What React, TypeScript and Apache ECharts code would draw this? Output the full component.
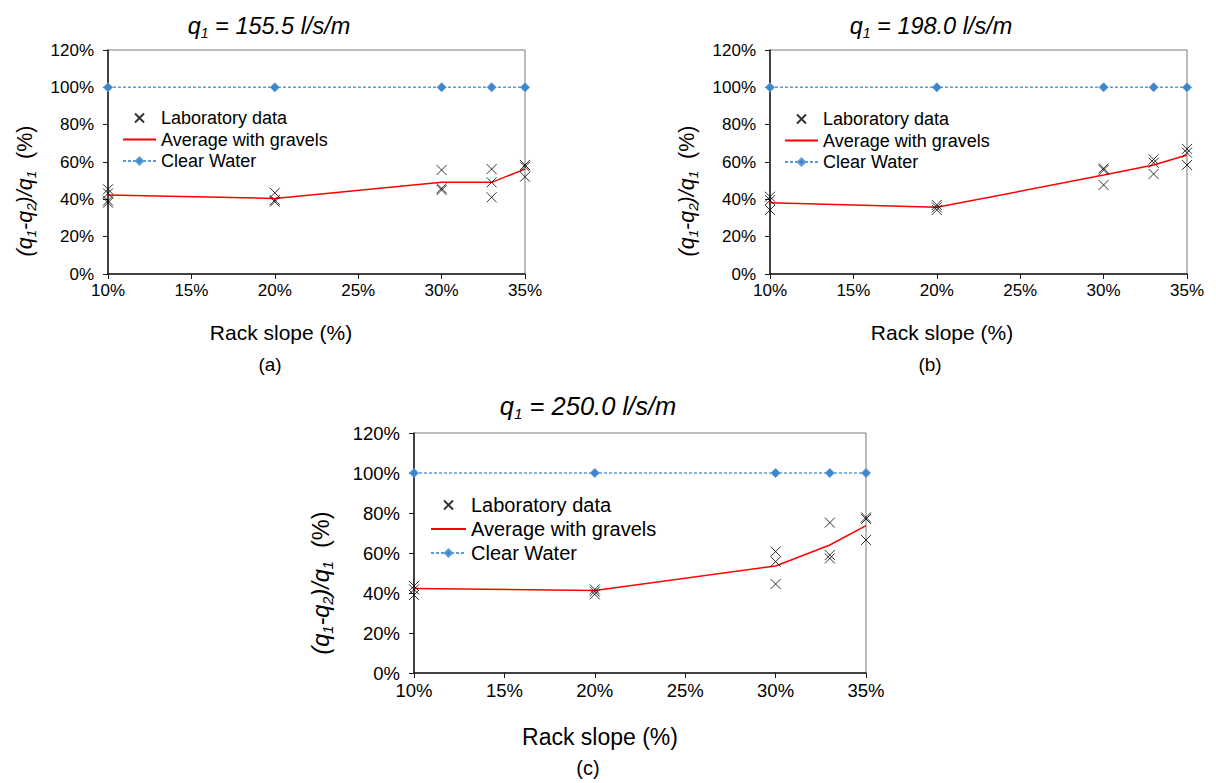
import React, { useEffect, useRef } from 'react';
import * as echarts from 'echarts';

// ---------- data ----------
const slopes = [10, 20, 30, 33, 35];
const clearWater = [100, 100, 100, 100, 100];

const labA = [[45.4, 43.2, 39.3, 38.2], [43.5, 39.6, 38.7], [55.7, 45.9, 45.0], [56.2, 49.1, 41.1], [58.4, 57.5, 52.1]];
const avgA = [42.3, 40.5, 49.1, 49.1, 56.2];
const labB = [[41.4, 39.6, 34.3], [37.0, 35.7, 34.3], [56.6, 55.7, 47.7], [61.4, 59.6, 53.6], [67.0, 65.0, 58.4]];
const avgB = [38.2, 35.7, 53.0, 58.4, 63.7];
const labC = [[43.5, 41.8, 39.0], [41.8, 40.7, 39.3], [60.7, 55.7, 44.5], [75.2, 59.0, 57.3], [77.8, 77.0, 66.5]];
const avgC = [42.3, 41.2, 53.5, 64.0, 73.7];

const flowValues = ['155.5', '198.0', '250.0'];
const panelLabels = ['(a)', '(b)', '(c)'];
const xTitle = 'Rack slope (%)';
const legendNames = ['Laboratory data', 'Average with gravels', 'Clear Water'];
const xTicks = { min: 10, max: 35, interval: 5 };
const yTicks = { min: 0, max: 120, interval: 20 };

const labs = [labA, labB, labC];
const avgs = [avgA, avgB, avgC];

// ---------- layout ----------
const FONT = '"Liberation Sans", Arial, sans-serif';
const X_PATH = 'path://M0,0L10,10M0,10L10,0';

const panels = [
  { left: 108, top: 50, width: 417, height: 224, tick: 17, lgLeft: 122, lgTop: 108, lgFont: 18, lgLH: 20, lgGap: 1.5, lgW: 33,
    tX: 269, tY: 26, tF: 23.5, yX: 25, yY: 191, yF: 21.5, xX: 281, xY: 332, xF: 21, pX: 270, pY: 364, pF: 19 },
  { left: 770, top: 50, width: 417, height: 224, tick: 17, lgLeft: 784, lgTop: 109, lgFont: 18, lgLH: 20, lgGap: 1.5, lgW: 33,
    tX: 931, tY: 26, tF: 23.5, yX: 687, yY: 191, yF: 21.5, xX: 942, xY: 332, xF: 21, pX: 930, pY: 364, pF: 19 },
  { left: 414, top: 433, width: 452, height: 240, tick: 18.5, lgLeft: 430, lgTop: 494, lgFont: 20, lgLH: 22, lgGap: 2, lgW: 35,
    tX: 588, tY: 406, tF: 25.5, yX: 321, yY: 583, yF: 23.5, xX: 600, xY: 737, xF: 23, pX: 588, pY: 768, pF: 20 },
];

function buildOption() {
  const grid: any[] = [];
  const xAxis: any[] = [];
  const yAxis: any[] = [];
  const series: any[] = [];
  const legend: any[] = [];
  const graphic: any[] = [];

  panels.forEach((p, i) => {
    grid.push({ left: p.left, top: p.top, width: p.width, height: p.height, show: true, borderColor: '#7a7a7a', borderWidth: 1, backgroundColor: 'transparent' });
    xAxis.push({
      type: 'value', gridIndex: i, min: xTicks.min, max: xTicks.max, interval: xTicks.interval,
      axisLine: { show: true, onZero: false, lineStyle: { color: '#1a1a1a', width: 1.5 } },
      axisTick: { show: true, inside: false, length: 5, lineStyle: { color: '#1a1a1a', width: 1 } },
      axisLabel: { formatter: '{value}%', fontSize: p.tick, fontFamily: FONT, color: '#000', margin: 8 },
      splitLine: { show: false },
    });
    yAxis.push({
      type: 'value', gridIndex: i, min: yTicks.min, max: yTicks.max, interval: yTicks.interval,
      axisLine: { show: true, onZero: false, lineStyle: { color: '#1a1a1a', width: 1.5 } },
      axisTick: { show: true, inside: false, length: 5, lineStyle: { color: '#1a1a1a', width: 1 } },
      axisLabel: { formatter: '{value}%', fontSize: p.tick, fontFamily: FONT, color: '#000', margin: 14 },
      splitLine: { show: false },
    });

    const pts: number[][] = [];
    labs[i].forEach((vals, k) => vals.forEach((v) => pts.push([slopes[k], v])));

    series.push({
      type: 'scatter', name: legendNames[0], xAxisIndex: i, yAxisIndex: i,
      symbol: X_PATH, symbolSize: 10, symbolKeepAspect: true, clip: false, z: 5,
      itemStyle: { color: 'rgba(0,0,0,0)', borderColor: '#000', borderWidth: 1 },
      data: pts,
    });
    series.push({
      type: 'line', name: legendNames[1], xAxisIndex: i, yAxisIndex: i,
      symbol: 'none', showSymbol: false, clip: false, z: 3,
      lineStyle: { color: '#ff0000', width: 1.5 }, itemStyle: { color: '#ff0000' },
      data: slopes.map((s, k) => [s, avgs[i][k]]),
    });
    series.push({
      type: 'line', name: legendNames[2], xAxisIndex: i, yAxisIndex: i,
      symbol: 'diamond', symbolSize: 9, clip: false, z: 4,
      lineStyle: { color: '#5b9bd5', width: 1.5, type: [3, 2] },
      itemStyle: { color: '#3d86cc', borderColor: '#5b9bd5', borderWidth: 1 },
      data: slopes.map((s, k) => [s, clearWater[k]]),
    });

    legend.push({
      orient: 'vertical', left: p.lgLeft, top: p.lgTop, padding: 0, itemGap: p.lgGap,
      itemWidth: p.lgW, itemHeight: 9, selectedMode: false,
      textStyle: { fontSize: p.lgFont, lineHeight: p.lgLH, fontFamily: FONT, color: '#000' },
      data: [
        { name: legendNames[0] },
        { name: legendNames[1], itemStyle: { opacity: 0 } },
        { name: legendNames[2] },
      ],
    });

    // title
    const tf = p.tF;
    graphic.push({
      type: 'text', x: p.tX, y: p.tY,
      style: {
        text: `{q|q}{s|1}{q| = ${flowValues[i]} l/s/m}`,
        align: 'center', verticalAlign: 'middle', fill: '#000',
        rich: {
          q: { fontSize: tf, fontStyle: 'italic', fontFamily: FONT, lineHeight: tf * 1.2, fill: '#000' },
          s: { fontSize: tf * 0.6, fontStyle: 'italic', fontFamily: FONT, lineHeight: tf * 0.75, verticalAlign: 'bottom', fill: '#000' },
        },
      },
    });
    // y axis name
    const yf = p.yF;
    graphic.push({
      type: 'text', x: p.yX, y: p.yY, rotation: Math.PI / 2,
      style: {
        text: '{q|(q}{s|1}{q|-q}{s|2}{q|)/q}{s|1}{n|  (%)}',
        align: 'center', verticalAlign: 'middle', fill: '#000',
        rich: {
          q: { fontSize: yf, fontStyle: 'italic', fontFamily: FONT, lineHeight: yf * 1.2, fill: '#000' },
          s: { fontSize: yf * 0.62, fontStyle: 'italic', fontFamily: FONT, lineHeight: yf * 0.75, verticalAlign: 'bottom', fill: '#000' },
          n: { fontSize: yf, fontFamily: FONT, lineHeight: yf * 1.2, fill: '#000' },
        },
      },
    });
    // x axis name
    graphic.push({
      type: 'text', x: p.xX, y: p.xY,
      style: { text: xTitle, align: 'center', verticalAlign: 'middle', fontSize: p.xF, fontFamily: FONT, fill: '#000' },
    });
    // panel label
    graphic.push({
      type: 'text', x: p.pX, y: p.pY,
      style: { text: panelLabels[i], align: 'center', verticalAlign: 'middle', fontSize: p.pF, fontFamily: FONT, fill: '#000' },
    });
  });

  return {
    animation: false,
    backgroundColor: '#ffffff',
    grid, xAxis, yAxis, series, legend, graphic,
  };
}

export default function App() {
  const ref = useRef<HTMLDivElement>(null);
  useEffect(() => {
    if (!ref.current) return;
    const chart = echarts.init(ref.current, undefined, { renderer: 'svg' });
    chart.setOption(buildOption() as any);
    return () => chart.dispose();
  }, []);
  return <div ref={ref} style={{ position: 'absolute', left: 0, top: 0, width: 1216, height: 783 }} />;
}
